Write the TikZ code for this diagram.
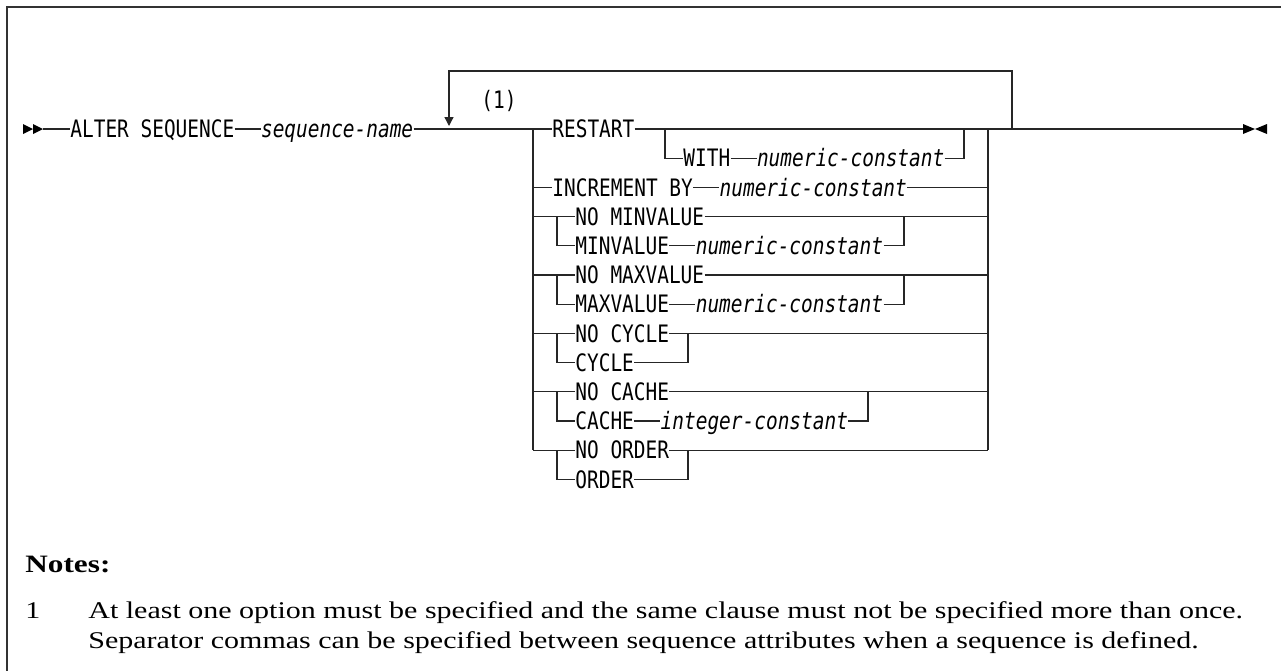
\documentclass[tikz,border=0pt]{standalone}
\usepackage{fontspec}
\usepackage{tikz}
\usetikzlibrary{positioning,arrows.meta}
\newfontfamily\railfont[FakeStretch=0.81,ItalicFont={DejaVu Sans Mono Oblique}]{DejaVu Sans Mono}
\newfontfamily\notefont[FakeStretch=1.25]{Liberation Serif}
\tikzset{
  rail/.style={draw=black!85, line width=0.65pt},
  frame/.style={draw=black!80, line width=0.8pt},
  kw/.style={font=\railfont\fontsize{12pt}{14pt}\selectfont, inner sep=0pt,
             text height=8.75pt, text depth=0pt, anchor=west},
  var/.style={kw, font=\railfont\itshape\fontsize{12pt}{14pt}\selectfont},
  notehead/.style={font=\notefont\bfseries\fontsize{12.5pt}{14pt}\selectfont,
                   inner sep=0pt, anchor=base west},
  notetext/.style={font=\notefont\fontsize{12pt}{14pt}\selectfont,
                   inner sep=0pt, anchor=base west}
}
\begin{document}
\begin{tikzpicture}[x=0.5pt, y=-0.5pt,
    railtip/.style={-{Triangle[length=4.5pt, width=4.5pt]}}]
  \useasboundingbox (0,0) rectangle (1281,671);
  \draw[frame] (1281,7) -- (7,7) -- (7,671);
  % rail junctions
  \coordinate (start) at (43,129);
  \coordinate (lft) at (533,129);
  \coordinate (sub) at (557,129);
  \coordinate (wsplit) at (665,129);
  \coordinate (wjoin) at (964,129);
  \coordinate (rgt) at (988,129);
  \coordinate (loop) at (1012,129);
  \coordinate (stop) at (1243,129);
  \coordinate (tip) at (449,126);
  \fill[black] (23,124) -- (33,129) -- (23,134) -- cycle
               (33,124) -- (43,129) -- (33,134) -- cycle;
  \fill[black] (1243,124) -- (1255,129) -- (1243,134) -- cycle
               (1267,124) -- (1255,129) -- (1267,134) -- cycle;
  % statement
  \node[kw] (alter) at (70,129) {ALTER SEQUENCE};
  \node[var, right=13pt of alter] (seqname) {sequence-name};
  \node[kw] (mark) at (481,100) {(1)};
  \node[kw] (restart) at (552,129) {RESTART};
  \node[kw] (with) at (683,158.2) {WITH};
  \node[var, right=13pt of with] (withc) {numeric-constant};
  \node[kw] (incr) at (552,187.4) {INCREMENT BY};
  \node[var, right=13pt of incr] (incrc) {numeric-constant};
  \node[kw] (nomin) at (575,216.6) {NO MINVALUE};
  \node[kw] (min) at (575,245.8) {MINVALUE};
  \node[var, right=13pt of min] (minc) {numeric-constant};
  \node[kw] (nomax) at (575,275) {NO MAXVALUE};
  \node[kw] (max) at (575,304.2) {MAXVALUE};
  \node[var, right=13pt of max] (maxc) {numeric-constant};
  \node[kw] (nocycle) at (575,333.4) {NO CYCLE};
  \node[kw] (cycle) at (575,362.6) {CYCLE};
  \node[kw] (nocache) at (575,391.8) {NO CACHE};
  \node[kw] (cache) at (575,421) {CACHE};
  \node[var, right=13pt of cache] (cachec) {integer-constant};
  \node[kw] (noorder) at (575,450.2) {NO ORDER};
  \node[kw] (order) at (575,479.4) {ORDER};
  % main line and repeat loop
  \draw[rail] (start) -- (alter.west);
  \draw[rail] (alter.east) -- (seqname.west);
  \draw[rail] (seqname.east) -- (lft) -- (restart.west);
  \draw[rail] (restart.east) -- (rgt) -- (stop);
  \draw[rail, railtip] (loop) -- ++(0,-58) -| (tip);
  \draw[rail] (wsplit) |- (with.west);
  \draw[rail] (with.east) -- (withc.west);
  \draw[rail] (withc.east) -| (wjoin);
  \draw[rail] (lft) -- (lft |- noorder.west);
  \draw[rail] (rgt) -- (rgt |- noorder.east);
  \draw[rail] (lft |- incr.west) -- (incr.west);
  \draw[rail] (incr.east) -- (incrc.west);
  \draw[rail] (incrc.east) -- (rgt |- incrc.east);
  \draw[rail] (min.east) -- (minc.west);
  \draw[rail] (max.east) -- (maxc.west);
  \draw[rail] (cache.east) -- (cachec.west);
  \foreach \a/\b/\e/\xr in {nomin/min/minc/904, nomax/max/maxc/904,
      nocycle/cycle/cycle/688, nocache/cache/cachec/868,
      noorder/order/order/688} {
    \coordinate (jr) at (\xr,0);
    \draw[rail] (lft |- \a.west) -- (\a.west);
    \draw[rail] (sub |- \a.west) |- (\b.west);
    \draw[rail] (\a.east) -- (rgt |- \a.east);
    \draw[rail] (\e.east) -| (jr |- \a.east);
  }
  % notes
  \node[notehead] (notes) at (25,572) {Notes:};
  \node[notetext] (num1) at (25,618) {1};
  \node[notetext] (line1) at (88,618)
    {At least one option must be specified and the same clause must not be specified more than once.};
  \node[notetext] (line2) at (88,648)
    {Separator commas can be specified between sequence attributes when a sequence is defined.};
\end{tikzpicture}
\end{document}
